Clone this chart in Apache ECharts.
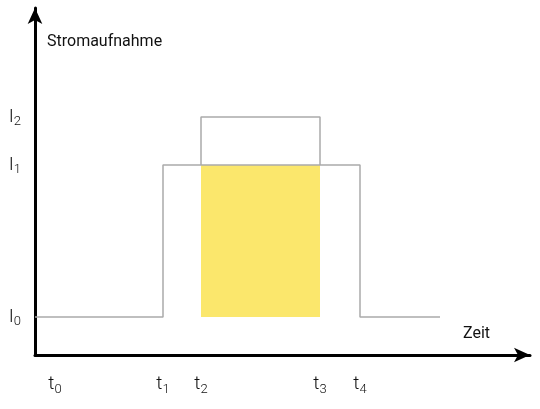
<!DOCTYPE html>
<html><head><meta charset="utf-8">
<script src="https://cdn.jsdelivr.net/npm/echarts@6/dist/echarts.min.js"></script>
<style>html,body{margin:0;padding:0;background:#fff}#c{width:540px;height:409px}</style>
</head><body><div id="c"></div>
<script>
// time marks (x units) and current levels (y units)
const timeNames = ['t0','t1','t2','t3','t4'];
const times = [20, 128, 166, 285, 325];
const endTime = 405;
const levelNames = ['I0','I1','I2'];
const levels = [38, 190, 238];

const profile = [[0,levels[0]],[times[1],levels[0]],[times[1],levels[1]],[times[4],levels[1]],[times[4],levels[0]],[endTime,levels[0]]];
const box = [[times[2],levels[1]],[times[2],levels[2]],[times[3],levels[2]],[times[3],levels[1]]];

function sub(name){ return '{a|'+name[0]+'}{b|'+name.slice(1)+'}'; }
const rich = {a:{fontSize:19,fontFamily:'Roboto',fontWeight:300,color:'#111'},b:{fontSize:13,fontFamily:'Roboto',fontWeight:300,color:'#111',padding:[10,0,0,0]}};

const chart = echarts.init(document.getElementById('c'));
chart.setOption({
  animation:false,
  grid:{left:35,right:10,top:8,bottom:54},
  xAxis:{type:'value',min:0,max:495,splitLine:{show:false},axisTick:{show:false},
    axisLine:{lineStyle:{color:'#000',width:3},symbol:['none','arrow'],symbolSize:[11,16]},
    axisLabel:{customValues:times,margin:18,formatter:(v)=>sub(timeNames[times.indexOf(v)]),rich:rich}},
  yAxis:{type:'value',min:0,max:347,splitLine:{show:false},axisTick:{show:false},
    axisLine:{lineStyle:{color:'#000',width:3},symbol:['none','arrow'],symbolSize:[11,16]},
    axisLabel:{customValues:levels,margin:14,formatter:(v)=>sub(levelNames[levels.indexOf(v)]),rich:rich}},
  series:[
    {type:'line',data:profile,symbol:'none',lineStyle:{color:'#aaa',width:1.5},
      markArea:{silent:true,itemStyle:{color:'#fbe76c'},data:[[{coord:[times[2],levels[0]]},{coord:[times[3],levels[1]]}]]}},
    {type:'line',data:box,symbol:'none',lineStyle:{color:'#aaa',width:1.5}}
  ],
  graphic:[
    {type:'text',left:47,top:34,style:{text:'Stromaufnahme',fontSize:16,fontFamily:'Roboto',fill:'#111'}},
    {type:'text',left:463,top:326,style:{text:'Zeit',fontSize:16,fontFamily:'Roboto',fill:'#111'}}
  ]
});
</script></body></html>
